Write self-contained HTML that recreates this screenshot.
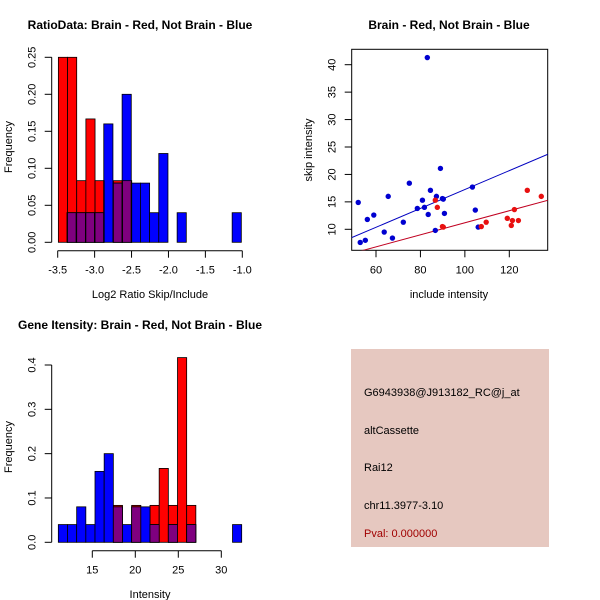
<!DOCTYPE html>
<html><head><meta charset="utf-8"><style>
body{margin:0;background:#fff;}
svg{display:block;font-family:"Liberation Sans",Arial,sans-serif;}
</style></head><body>
<svg id="chart" width="600" height="600" viewBox="0 0 600 600">
<rect width="600" height="600" fill="#fff"/>
<text x="140" y="29" font-size="12" font-weight="bold" text-anchor="middle">RatioData: Brain - Red, Not Brain - Blue</text>
<text x="449" y="29" font-size="12" font-weight="bold" text-anchor="middle">Brain - Red, Not Brain - Blue</text>
<text x="140" y="329" font-size="12" font-weight="bold" text-anchor="middle">Gene Itensity: Brain - Red, Not Brain - Blue</text>
<text x="150" y="298" font-size="11" text-anchor="middle">Log2 Ratio Skip/Include</text>
<text x="12" y="147" font-size="11" text-anchor="middle" transform="rotate(-90 12 147)">Frequency</text>
<text x="449" y="298" font-size="11" text-anchor="middle">include intensity</text>
<text x="312" y="150" font-size="11" text-anchor="middle" transform="rotate(-90 312 150)">skip intensity</text>
<text x="150" y="598" font-size="11" text-anchor="middle">Intensity</text>
<text x="12" y="447" font-size="11" text-anchor="middle" transform="rotate(-90 12 447)">Frequency</text>
<g>
<rect x="351" y="349" width="198" height="198" fill="#e6c8c0"/>
<text x="364" y="396" font-size="11">G6943938@J913182_RC@j_at</text>
<text x="364" y="434" font-size="11">altCassette</text>
<text x="364" y="471" font-size="11">Rai12</text>
<text x="364" y="509" font-size="11">chr11.3977-3.10</text>
<text x="364" y="537" font-size="11" fill="#a00000">Pval: 0.000000</text>
</g>
</svg>
<script>
// ---- Ratio histogram data ----
const ratioRedStart = -3.491, ratioBlueStart = -3.373, ratioBinWidth = 0.1242;
const ratioRed = [0.25,0.25,0.0833,0.1667,0.0833,0,0.0833,0.0833];
const ratioBlue = [0.04,0.04,0.04,0.04,0.16,0.08,0.2,0.08,0.08,0.04,0.12,0,0.04,0,0,0,0,0,0.04];
const ratioXTicks = [-3.5,-3.0,-2.5,-2.0,-1.5,-1.0];
const ratioXLabels = ["-3.5","-3.0","-2.5","-2.0","-1.5","-1.0"];
const ratioYTicks = [0,0.05,0.10,0.15,0.20,0.25];
const ratioYLabels = ["0.00","0.05","0.10","0.15","0.20","0.25"];
// ---- Intensity histogram data ----
const intStart = 11.05, intBinWidth = 1.066;
const intRed = [0,0,0,0,0,0,0.0833,0,0.0833,0,0.0833,0.1667,0.0833,0.4167,0.0833,0,0,0,0,0];
const intBlue = [0.04,0.04,0.08,0.04,0.16,0.2,0.08,0.04,0.08,0.08,0.04,0,0.04,0,0.04,0,0,0,0,0.04];
const intXTicks = [15,20,25,30];
const intXLabels = ["15","20","25","30"];
const intYTicks = [0,0.1,0.2,0.3,0.4];
const intYLabels = ["0.0","0.1","0.2","0.3","0.4"];
// ---- Scatter data ----
const blueInclude = [52.0,52.9,55.2,56.1,59.0,63.7,65.5,67.4,72.3,75.0,78.6,80.9,81.8,83.1,83.5,84.5,86.7,87.2,89.0,89.9,90.3,90.8,103.4,104.7,106.0];
const blueSkip = [14.9,7.6,8.0,11.8,12.6,9.5,16.0,8.4,11.3,18.4,13.8,15.3,14.0,41.3,12.7,17.1,9.8,16.0,21.1,15.6,15.5,12.9,17.7,13.5,10.4];
const redInclude = [86.7,87.6,89.9,90.3,107.4,109.6,119.1,120.9,121.4,122.3,124.1,128.1,134.4];
const redSkip = [15.3,14.0,10.5,10.4,10.5,11.3,12.0,10.7,11.6,13.6,11.6,17.1,16.0];
const blueFit = [0.04,0.1721];
const redFit = [0.21,0.1098];
const scXTicks = [60,80,100,120];
const scXLabels = ["60","80","100","120"];
const scYTicks = [10,15,20,25,30,35,40];
const scYLabels = ["10","15","20","25","30","35","40"];

const NS="http://www.w3.org/2000/svg", svg=document.getElementById('chart');
function mk(tag,attrs,parent){const e=document.createElementNS(NS,tag);for(const k in attrs)e.setAttribute(k,attrs[k]);(parent||svg).appendChild(e);return e;}
function lin(d0,d1,r0,r1){return v=>r0+(v-d0)*(r1-r0)/(d1-d0);}

function axes(g,x,y,xt,xl,yt,yl,xAxisY,yAxisX,xName,yName,drawLines){
  const xa=mk('g',{},g);
  
  
  if(drawLines) mk('line',{x1:x(xt[0]),x2:x(xt[xt.length-1]),y1:xAxisY,y2:xAxisY,stroke:'#000'},xa);
  xt.forEach((t,i)=>{mk('line',{x1:x(t),x2:x(t),y1:xAxisY,y2:xAxisY+7,stroke:'#000'},xa);
    const tx=mk('text',{x:x(t),y:xAxisY+23,'font-size':11,'text-anchor':'middle'},xa);tx.textContent=xl[i];
    
    });
  const ya=mk('g',{},g);
  
  
  if(drawLines) mk('line',{x1:yAxisX,x2:yAxisX,y1:y(yt[0]),y2:y(yt[yt.length-1]),stroke:'#000'},ya);
  yt.forEach((t,i)=>{mk('line',{x1:yAxisX,x2:yAxisX-7,y1:y(t),y2:y(t),stroke:'#000'},ya);
    const lx=yAxisX-16;
    const tx=mk('text',{x:lx,y:y(t),'font-size':11,'text-anchor':'middle',transform:`rotate(-90 ${lx} ${y(t)})`},ya);tx.textContent=yl[i];
    
    });
}

function hist(g,x,y,redStart,blueStart,w,red,blue){
  red.forEach((v,i)=>{if(v<=0)return;const a=redStart+i*w;
    const r=mk('rect',{x:x(a),y:y(v),width:x(a+w)-x(a),height:y(0)-y(v),fill:'#ff0000',stroke:'#000','stroke-width':0.8},g);
    
    });
  blue.forEach((v,i)=>{if(v<=0)return;const a=blueStart+i*w;
    const r=mk('rect',{x:x(a),y:y(v),width:x(a+w)-x(a),height:y(0)-y(v),fill:'#0000ff',stroke:'#000','stroke-width':0.8},g);
    
    
    red.forEach((rv,j)=>{if(rv<=0)return;const ra=redStart+j*w;
      const lo=Math.max(a,ra),hi=Math.min(a+w,ra+w);if(hi-lo<1e-6)return;
      const m=Math.min(v,rv);
      const o=mk('rect',{x:x(lo),y:y(m),width:x(hi)-x(lo),height:y(0)-y(m),fill:'#7f007f',stroke:'#000','stroke-width':0.8},g);
      
      
    });
  });
}

// Ratio histogram
{const g=mk('g',{});


const x=lin(-3.5,-1.0,57.7,242.3), y=lin(0,0.25,242.3,57.3);
hist(g,x,y,ratioRedStart,ratioBlueStart,ratioBinWidth,ratioRed,ratioBlue);
axes(g,x,y,ratioXTicks,ratioXLabels,ratioYTicks,ratioYLabels,250.7,51.7,'ratio-x-axis','ratio-y-axis',true);}

// Intensity histogram
{const g=mk('g',{});


const x=lin(15,30,92.3,221.3), y=lin(0,0.4,542.3,365);
hist(g,x,y,intStart,intStart,intBinWidth,intRed,intBlue);
axes(g,x,y,intXTicks,intXLabels,intYTicks,intYLabels,550.7,51.7,'intensity-x-axis','intensity-y-axis',true);}

// Scatter
{const g=mk('g',{});


const x=lin(60,120,376,509.3), y=lin(10,40,229.3,64.7);
const L=351.7,R=547.7,T=49.3,B=250.3;
const box=mk('rect',{x:L,y:T,width:R-L,height:B-T,fill:'none',stroke:'#000'},g);


const cp=mk('clipPath',{id:'scclip'},g);
mk('rect',{x:L,y:T,width:R-L,height:B-T},cp);
const xmin=49, xmax=138.5;
[[blueFit,'#0000c0','blue-fit-line'],[redFit,'#c00020','red-fit-line']].forEach(([f,c,n])=>{
  const l=mk('line',{x1:x(xmin),y1:y(f[0]+f[1]*xmin),x2:x(xmax),y2:y(f[0]+f[1]*xmax),stroke:c,'stroke-width':1,'clip-path':'url(#scclip)'},g);
  
  });
blueInclude.forEach((v,i)=>{const p=mk('circle',{cx:x(v),cy:y(blueSkip[i]),r:2.7,fill:'#0000d0'},g);
  
  });
redInclude.forEach((v,i)=>{const p=mk('circle',{cx:x(v),cy:y(redSkip[i]),r:2.7,fill:'#e81010'},g);
  
  });
axes(g,x,y,scXTicks,scXLabels,scYTicks,scYLabels,B,L,'scatter-x-axis','scatter-y-axis',false);}
</script>
</body></html>
